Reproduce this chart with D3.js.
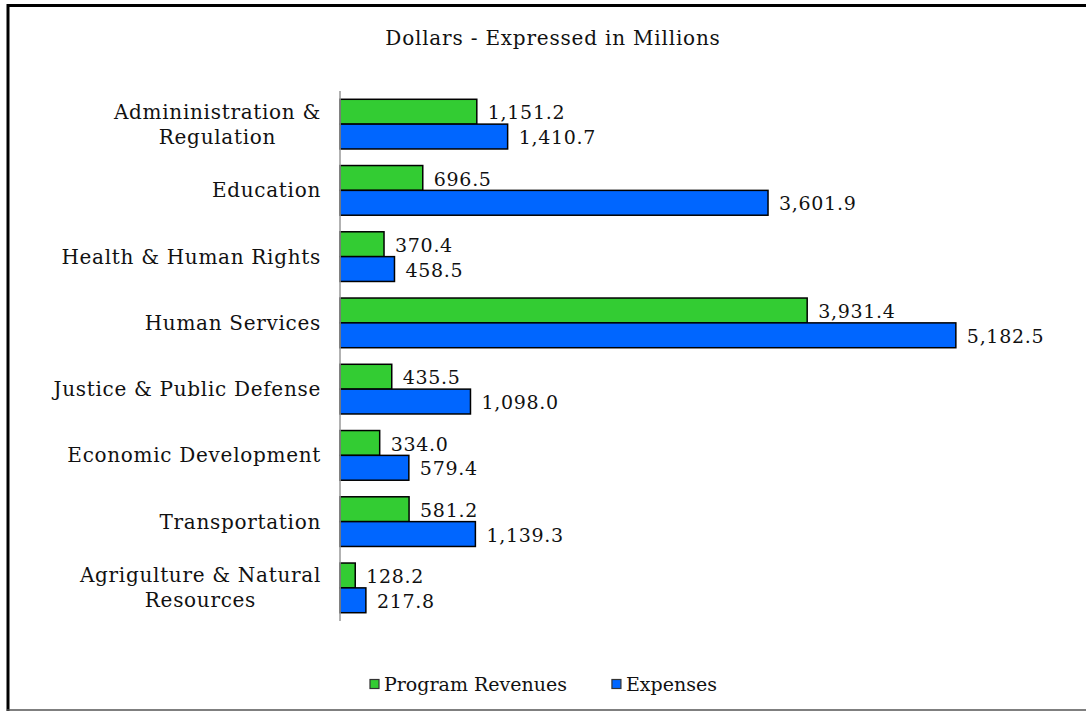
<!DOCTYPE html>
<html>
<head>
<meta charset="utf-8">
<script src="https://cdn.jsdelivr.net/npm/d3@7"></script>
<style>
  body { margin: 0; background: #fff; }
  svg text { font-family: "DejaVu Serif", "Liberation Serif", serif; fill: #111; }
</style>
</head>
<body>
<svg id="chart" width="1086" height="711"></svg>
<script>
"use strict";

// Data ////////////////////////////////////////////////////
var categories = [
  ["Admininistration &", "Regulation"],
  ["Education"],
  ["Health & Human Rights"],
  ["Human Services"],
  ["Justice & Public Defense"],
  ["Economic Development"],
  ["Transportation"],
  ["Agrigulture & Natural", "Resources"]
];
var seriesNames = ["Program Revenues", "Expenses"];
var programRevenues = [1151.2, 696.5, 370.4, 3931.4, 435.5, 334.0, 581.2, 128.2];
var expenses = [1410.7, 3601.9, 458.5, 5182.5, 1098.0, 579.4, 1139.3, 217.8];
var colors = ["#33cc33", "#0066ff"];
var titleText = "Dollars - Expressed in Millions";

var svg = d3.select("#chart");
var fmt = d3.format(",.1f");

// Frame
svg.append("line").attr("x1", 8).attr("x2", 8).attr("y1", 4).attr("y2", 711)
    .attr("stroke", "#000").attr("stroke-width", 3);
svg.append("line").attr("x1", 7).attr("x2", 1086).attr("y1", 5.5).attr("y2", 5.5)
    .attr("stroke", "#000").attr("stroke-width", 3);
svg.append("line").attr("x1", 7).attr("x2", 1086).attr("y1", 710).attr("y2", 710)
    .attr("stroke", "#555").attr("stroke-width", 1.5);

// Title
svg.append("text").attr("x", 553).attr("y", 45)
    .attr("text-anchor", "middle").attr("font-size", 20)
    .attr("letter-spacing", 0.8).text(titleText);

// Scales
var keys = categories.map(function(d) { return d.join(" "); });
var x = d3.scaleLinear().domain([0, 6000]).range([340, 1053]);
var y = d3.scaleBand().domain(keys).range([91, 621])
    .paddingInner(0.25).paddingOuter(0.125);
var y1 = d3.scaleBand().domain(seriesNames).range([0, y.bandwidth()]);

var rows = keys.map(function(k, i) {
  return { key: k, lines: categories[i], values: [programRevenues[i], expenses[i]] };
});

// Bars
var group = svg.selectAll("g.cat").data(rows).enter().append("g")
    .attr("class", "cat")
    .attr("transform", function(d) { return "translate(0," + y(d.key) + ")"; });

group.selectAll("rect").data(function(d) {
  return d.values.map(function(v, j) { return { s: seriesNames[j], v: v, j: j }; });
}).enter().append("rect")
    .attr("x", x(0))
    .attr("y", function(d) { return y1(d.s); })
    .attr("width", function(d) { return x(d.v) - x(0); })
    .attr("height", y1.bandwidth())
    .attr("fill", function(d) { return colors[d.j]; })
    .attr("stroke", "#000").attr("stroke-width", 1.5);

group.selectAll("text.val").data(function(d) {
  return d.values.map(function(v, j) { return { s: seriesNames[j], v: v }; });
}).enter().append("text")
    .attr("class", "val")
    .attr("x", function(d) { return x(d.v) + 11; })
    .attr("y", function(d) { return y1(d.s) + y1.bandwidth() / 2 + 1; })
    .attr("dy", "0.35em").attr("font-size", 19).attr("letter-spacing", 0.7)
    .text(function(d) { return fmt(d.v); });

// Category labels: block right-aligned, lines centered on each other
group.each(function(d) {
  var g = d3.select(this);
  var n = d.lines.length, lh = 25;
  var t = g.append("text").attr("font-size", 20).attr("letter-spacing", 0.7)
      .attr("text-anchor", "middle");
  d.lines.forEach(function(line, i) {
    t.append("tspan").attr("y", y.bandwidth() / 2 + (i - (n - 1) / 2) * lh)
        .attr("dy", "0.35em").text(line);
  });
  var w = 0;
  t.selectAll("tspan").each(function() { w = Math.max(w, this.getComputedTextLength()); });
  t.selectAll("tspan").attr("x", 321 - w / 2);
});

// Axis line
svg.append("line").attr("x1", x(0)).attr("x2", x(0)).attr("y1", 91).attr("y2", 621)
    .attr("stroke", "#999").attr("stroke-width", 1.5);

// Legend
var legend = svg.append("g");
var lx = 370;
seriesNames.forEach(function(s, i) {
  var item = legend.append("g").attr("transform", "translate(" + lx + ",684)");
  item.append("rect").attr("x", 0).attr("y", -4.5).attr("width", 9).attr("height", 9)
      .attr("fill", colors[i]).attr("stroke", "#333").attr("stroke-width", 1.2);
  var t = item.append("text").attr("x", 14).attr("dy", "0.35em").attr("font-size", 19).text(s);
  lx += 14 + t.node().getComputedTextLength() + 45;
});
</script>
</body>
</html>
